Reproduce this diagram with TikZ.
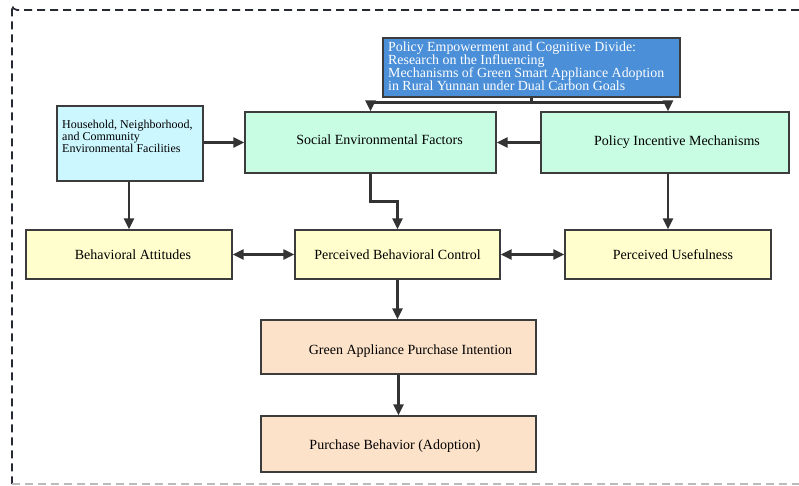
\documentclass[tikz,border=0pt]{standalone}
\usepackage{fontspec}
\setmainfont{Liberation Serif}
\usetikzlibrary{arrows.meta,positioning,calc}
\definecolor{titlefill}{HTML}{4A8FD8}
\definecolor{cyanfill}{HTML}{CCF7FE}
\definecolor{mintfill}{HTML}{C8FCE3}
\definecolor{yelfill}{HTML}{FFFECC}
\definecolor{peachfill}{HTML}{FDE2CA}
\definecolor{edge}{HTML}{3C3C3C}
\definecolor{conn}{HTML}{333333}
\definecolor{frame}{HTML}{252A33}
\definecolor{framelight}{HTML}{BBBBBB}
\newcommand{\mytightlines}{\lineskiplimit=-20pt\relax}
\tikzset{
  boxnode/.style={draw=edge, line width=1.4pt, inner sep=0pt, font=\fontsize{14}{16}\selectfont},
  txt/.style={inner sep=0pt, font=\fontsize{14}{16}\selectfont},
  arr/.style={draw=conn, line width=2.5pt, -{Triangle[length=11pt,width=10pt]}},
  darr/.style={draw=conn, line width=2.5pt, {Triangle[length=11pt,width=10pt]}-{Triangle[length=11pt,width=10pt]}},
  framestyle/.style={line width=1.7pt, dash pattern=on 8pt off 5pt}
}
\begin{document}
\begin{tikzpicture}[x=1pt,y=-1pt]
\useasboundingbox (0,0) rectangle (799,485);
% frame
\draw[framestyle, draw=frame] (799,10) -- (17,10) arc[start angle=90,end angle=180,radius=5] -- (12,484);
\draw[framestyle, draw=framelight] (12,484) -- (799,484);
% nodes
\node[boxnode, fill=titlefill, minimum width=297pt, minimum height=59pt] (title) at (531.5,67.5) {};
\node[anchor=north west, inner sep=0pt, text=white, align=left, font=\fontsize{13.9}{12.9}\selectfont\mytightlines] (titletext) at (388,42) {Policy Empowerment and Cognitive Divide:\\Research on the Influencing\\Mechanisms of Green Smart Appliance Adoption\\in Rural Yunnan under Dual Carbon Goals};
\node[boxnode, fill=cyanfill, minimum width=146pt, minimum height=75pt] (house) at (130,143.5) {};
\node[anchor=north west, inner sep=0pt, align=left, font=\fontsize{12}{12.2}\selectfont\mytightlines] (housetext) at (62,120) {Household, Neighborhood,\\and Community\\Environmental Facilities};
\node[boxnode, fill=mintfill, minimum width=251pt, minimum height=61pt] (social) at (370.5,142.5) {};
\node[txt] (socialtext) at (379.5,140) {Social Environmental Factors};
\node[boxnode, fill=mintfill, minimum width=248pt, minimum height=61pt] (policy) at (665,142.5) {\hspace{24pt}Policy Incentive Mechanisms};
\node[boxnode, fill=yelfill, minimum width=206pt, minimum height=49pt] (ba) at (129,254.5) {\hspace{8pt}Behavioral Attitudes};
\node[boxnode, fill=yelfill, minimum width=205pt, minimum height=49pt] (pbc) at (397.5,254.5) {Perceived Behavioral Control};
\node[boxnode, fill=yelfill, minimum width=206pt, minimum height=49pt] (pu) at (668,254.5) {\hspace{10pt}Perceived Usefulness};
\node[boxnode, fill=peachfill, minimum width=275pt, minimum height=54pt] (gapi) at (398.5,347) {};
\node[txt] (gapitext) at (410.5,351) {Green Appliance Purchase Intention};
\node[boxnode, fill=peachfill, minimum width=275pt, minimum height=56pt] (pb) at (398.5,444) {};
\node[txt] (pbtext) at (395,446.5) {Purchase Behavior (Adoption)};
% connectors
\coordinate (tj) at ($(title.south)+(0,5)$);
\draw[draw=conn, line width=2.5pt] (title.south) -- (tj);
\draw[arr] (tj) -| (social.north);
\draw[arr] (tj) -| ([xshift=3pt]policy.north);
\draw[arr] (house.east |- social.west) -- (social.west);
\draw[arr] (policy.west) -- (social.east);
\draw[arr] (house.south -| ba.north) -- (ba.north);
\draw[arr] (social.south) -- ++(0,28) -| (pbc.north);
\draw[arr] ([xshift=3pt]policy.south) -- ([xshift=3pt]policy.south |- pu.north);
\draw[darr] (ba.east) -- (pbc.west);
\draw[darr] (pbc.east) -- (pu.west);
\draw[arr] (pbc.south) -- (pbc.south |- gapi.north);
\draw[arr] (gapi.south) -- (gapi.south |- pb.north);
\end{tikzpicture}
\end{document}
